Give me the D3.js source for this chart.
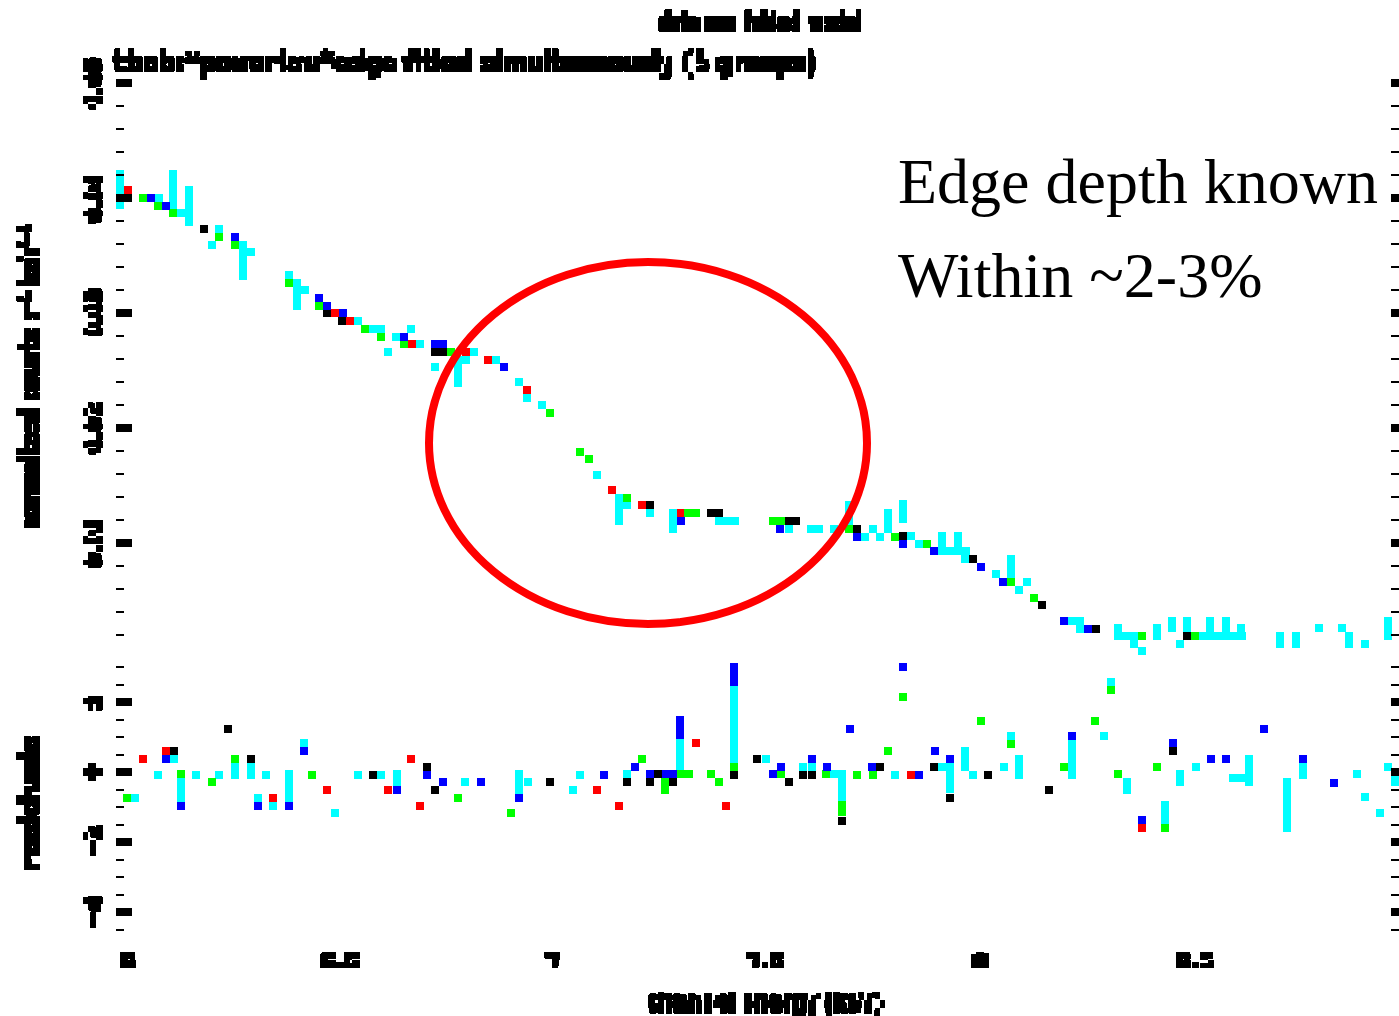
<!DOCTYPE html>
<html>
<head>
<meta charset="utf-8">
<script type="text/javascript" src="https://d3js.org/d3.v7.min.js"></script>
<style>
  body { margin: 0; background: #ffffff; }
  svg { display: block; }
</style>
</head>
<body>
<div id="plot"></div>
<script type="text/javascript">
// five data groups, plotted black, red, green, blue, cyan (group 1..5)
// top panel: [energy keV, normalized counts s^-1 keV^-1, error]
var topBlack = [[6.002,0.0400],[6.182,0.0373],[6.469,0.0300],[6.504,0.0293],[6.722,0.0266],[6.741,0.0266],[7.226,0.0133],[7.369,0.0126],[7.388,0.0126],[7.552,0.0119],[7.568,0.0119],[7.712,0.0112],[7.819,0.0106],[7.983,0.0086],[8.144,0.0046],[8.271,0.0025],[8.485,0.0019]];
var topRed = [[6.002,0.0407],[6.488,0.0300],[6.523,0.0293],[6.668,0.0273],[6.795,0.0266],[6.846,0.0259],[6.938,0.0233],[7.136,0.0146],[7.207,0.0133],[7.299,0.0126]];
var topGreen = [[6.038,0.0400],[6.073,0.0393],[6.108,0.0387],[6.217,0.0366],[6.253,0.0359],[6.380,0.0326],[6.450,0.0306],[6.558,0.0286],[6.595,0.0279],[6.649,0.0273],[6.760,0.0266],[6.992,0.0213],[7.063,0.0179],[7.082,0.0173],[7.172,0.0139],[7.315,0.0126],[7.334,0.0126],[7.514,0.0119],[7.533,0.0119],[7.692,0.0112],[7.800,0.0105],[7.875,0.0099],[8.072,0.0066],[8.126,0.0052],[8.379,0.0019],[8.504,0.0019]];
var topBlue = [[6.056,0.0400],[6.091,0.0393],[6.253,0.0366],[6.450,0.0313],[6.469,0.0306],[6.506,0.0300],[6.649,0.0279],[6.722,0.0273],[6.741,0.0273],[6.884,0.0253],[7.299,0.0119],[7.531,0.0112],[7.712,0.0105],[7.819,0.0099],[7.892,0.0093],[8.001,0.0079],[8.053,0.0066],[8.196,0.0032],[8.253,0.0025]];
var topCyan = [[5.984,0.0407,0.00135],[6.075,0.0400],[6.109,0.0407,0.00135],[6.127,0.0387],[6.145,0.0393,0.00139],[6.217,0.0373],[6.199,0.0359],[6.272,0.0346,0.00135],[6.291,0.0353],[6.380,0.0333],[6.398,0.0316,0.0010],[6.417,0.0320],[6.541,0.0293],[6.577,0.0286],[6.595,0.0286],[6.667,0.0286],[6.631,0.0279],[6.687,0.0273],[6.613,0.0266],[6.813,0.0266],[6.776,0.0249,0.0010],[6.795,0.0259],[6.722,0.0253],[6.865,0.0259],[6.919,0.0240],[6.938,0.0226],[6.974,0.0220],[7.101,0.0159],[7.154,0.0129,0.0010],[7.172,0.0133],[7.226,0.0126],[7.280,0.0119,0.0007],[7.388,0.0119],[7.406,0.0119],[7.425,0.0119],[7.551,0.0112],[7.603,0.0112],[7.622,0.0112],[7.657,0.0112],[7.692,0.0126,0.0007],[7.730,0.0105],[7.749,0.0112],[7.766,0.0105],[7.784,0.0119,0.0007],[7.819,0.0127,0.00065],[7.838,0.0106],[7.857,0.0099],[7.910,0.0100,0.00065],[7.929,0.0093],[7.947,0.0100,0.00065],[7.964,0.0086],[7.966,0.0093],[8.036,0.0073],[8.072,0.0076,0.0010],[8.109,0.0066],[8.090,0.0059],[8.215,0.0032],[8.234,0.0032],[8.234,0.0025],[8.324,0.0023,0.00035],[8.342,0.0019],[8.361,0.0019],[8.361,0.0012],[8.378,0.0006],[8.414,0.0023,0.00035],[8.450,0.0029,0.0003],[8.468,0.0012],[8.485,0.0029,0.0003],[8.522,0.0019],[8.541,0.0019],[8.560,0.0019],[8.579,0.0019],[8.597,0.0019],[8.614,0.0019],[8.539,0.0026,0.00065],[8.576,0.0026,0.00065],[8.612,0.0023,0.00035],[8.703,0.0016,0.00035],[8.739,0.0016,0.00035],[8.793,0.0026],[8.847,0.0026],[8.864,0.0016,0.00035],[8.901,0.0012],[8.955,0.0026,0.00065]];

// bottom panel: [energy keV, (data-model)/error, error]
var resBlack = [[6.236,1.24],[6.110,0.60],[6.290,0.37],[6.704,0.14],[6.577,-0.09],[6.722,-0.51],[6.992,-0.29],[7.172,-0.29],[7.226,-0.29],[7.245,-0.06],[7.280,-0.29],[7.424,-0.09],[7.477,0.37],[7.551,-0.29],[7.585,-0.09],[7.605,-0.09],[7.676,-1.39],[7.766,0.14],[7.892,0.14],[7.928,-0.73],[8.018,-0.09],[8.162,-0.51],[8.451,0.59]];
var resRed = [[6.091,0.60],[6.038,0.37],[6.667,0.37],[6.612,-0.51],[6.470,-0.51],[6.343,-0.73],[6.686,-0.96],[7.101,-0.51],[7.154,-0.96],[7.334,0.83],[7.405,-0.96],[7.838,-0.09],[8.378,-1.60]];
var resGreen = [[6.253,0.37],[6.128,-0.06],[6.199,-0.29],[6.434,-0.09],[6.000,-0.73],[6.776,-0.73],[6.901,-1.17],[7.208,0.37],[7.262,-0.40,0.11],[7.299,-0.06],[7.317,-0.06],[7.424,0.14],[7.370,-0.06],[7.388,-0.29],[7.532,-0.06],[7.639,-0.06],[7.676,-1.04,0.10],[7.712,-0.09],[7.748,-0.09],[7.784,0.60],[7.820,2.13],[8.001,1.47],[8.072,0.81],[8.196,0.14],[8.270,1.47],[8.307,2.34],[8.324,-0.07],[8.414,0.14],[8.432,-1.60]];
var resBlue = [[6.091,0.37],[6.416,0.59],[6.704,-0.09],[6.128,-0.96],[6.380,-0.96],[6.308,-0.96],[6.632,-0.51],[6.740,-0.29],[6.830,-0.29],[6.920,-0.73],[7.118,-0.09],[7.190,0.14],[7.226,-0.06],[7.263,-0.06],[7.280,-0.06],[7.297,1.27,0.21],[7.424,2.79,0.21],[7.514,-0.06],[7.532,0.14],[7.605,0.37],[7.640,0.14],[7.694,1.24],[7.746,0.14],[7.820,3.00],[7.857,-0.09],[7.893,0.59],[7.928,0.37],[8.216,1.03],[8.378,-1.37],[8.451,0.83],[8.540,0.36],[8.576,0.36],[8.666,1.24],[8.757,0.37],[8.828,-0.30]];
var resCyan = [[6.110,0.37],[6.074,-0.09],[6.128,-0.51,0.23],[6.163,-0.09],[6.217,-0.09],[6.253,0.03,0.11],[6.290,0.03,0.11],[6.326,-0.09],[6.380,-0.40,0.34],[6.416,0.83],[6.541,-0.09],[6.595,-0.09],[6.632,-0.17,0.11],[6.793,-0.29],[6.920,-0.29,0.23],[6.939,-0.29],[7.063,-0.09],[7.045,-0.51],[6.020,-0.73],[6.308,-0.73],[6.343,-0.96],[6.488,-1.17],[7.172,-0.06],[7.297,0.50,0.33],[7.424,1.36,0.99],[7.497,0.37],[7.585,0.14],[7.605,0.14],[7.657,-0.06],[7.676,-0.39,0.33],[7.801,-0.09],[7.910,0.14],[7.929,0.14],[7.928,-0.17,0.31],[7.964,0.37,0.23],[7.982,-0.09],[8.055,0.14],[8.072,1.03],[8.090,0.14,0.23],[8.216,0.37,0.46],[8.289,1.03],[8.307,2.57],[8.343,-0.40,0.11],[8.432,-1.16,0.21],[8.468,-0.17,0.11],[8.505,0.14],[8.593,-0.17],[8.611,-0.17],[8.631,0.04,0.33],[8.720,-0.94,0.66],[8.757,0.03,0.11],[8.882,-0.07],[8.901,-0.71],[8.936,-1.17],[8.955,0.14],[8.972,-0.17,0.11]];

var xTicks = [6, 6.5, 7, 7.5, 8, 8.5];
var topTicks = [0.01, 0.02, 0.03, 0.04, 0.05];
var resTicks = [-4, -2, 0, 2];

var titleText = "data and folded model";
var fileText = "tbabs*powerlaw*edge  fitted  simultaneously  (5 groups)";
var xLabel = "channel energy (keV)";
var yLabelTop = "normalized counts s\u207B\u00B9 keV\u207B\u00B9";
var yLabelRes = "residuals";
var noteLines = ["Edge depth known", "Within ~2-3%"];

var W = 1399, H = 1016;

var x = d3.scaleLinear().domain([5.984, 8.972]).range([120, 1395]);
var yTop = d3.scaleLinear().domain([0, 0.05]).range([658, 83]);
var yRes = d3.scaleLinear().domain([-4.6, 3.25]).range([933, 658.25]);

var svg = d3.select("#plot").append("svg")
    .attr("width", W)
    .attr("height", H);

// blocky look for the low-res labels: sample a 4x4 patch per 8px cell, grow it back to 8x8
var defs = svg.append("defs");
var pix = defs.append("filter").attr("id", "pix")
    .attr("filterUnits", "userSpaceOnUse")
    .attr("x", 0).attr("y", 0).attr("width", W).attr("height", H);
pix.append("feFlood").attr("x", 2).attr("y", 2).attr("width", 4).attr("height", 4).attr("flood-color", "#000");
pix.append("feComposite").attr("width", 8).attr("height", 8);
pix.append("feTile").attr("result", "grid");
pix.append("feComposite").attr("in", "SourceGraphic").attr("in2", "grid").attr("operator", "in");
pix.append("feComponentTransfer").append("feFuncA").attr("type", "discrete").attr("tableValues", "0 1 1 1");
pix.append("feMorphology").attr("operator", "dilate").attr("radius", 2);

function drawGroup(data, y, color) {
    var g = svg.append("g").attr("fill", color);
    g.selectAll(null)
        .data(data.filter(function (d) { return d[2]; }))
        .enter().append("rect")
        .attr("x", function (d) { return Math.round(x(d[0]) - 4); })
        .attr("y", function (d) { return Math.round(y(d[1] + d[2]) - 4); })
        .attr("width", 8)
        .attr("height", function (d) { return Math.round(y(d[1] - d[2]) - y(d[1] + d[2])) + 8; });
    g.selectAll(null)
        .data(data)
        .enter().append("rect")
        .attr("x", function (d) { return Math.round(x(d[0]) - 4); })
        .attr("y", function (d) { return Math.round(y(d[1]) - 4); })
        .attr("width", 8)
        .attr("height", 8);
}

// group 5 goes underneath, the others on top
drawGroup(topCyan, yTop, "#00ffff");
drawGroup(resCyan, yRes, "#00ffff");
drawGroup(topBlack, yTop, "#000000");
drawGroup(resBlack, yRes, "#000000");
drawGroup(topRed, yTop, "#ff0000");
drawGroup(resRed, yRes, "#ff0000");
drawGroup(topGreen, yTop, "#00ff00");
drawGroup(resGreen, yRes, "#00ff00");
drawGroup(topBlue, yTop, "#0000ff");
drawGroup(resBlue, yRes, "#0000ff");

// tick marks on both vertical sides
function sideTicks(y, major, minor) {
    var g = svg.append("g").attr("fill", "#000");
    minor.forEach(function (v) {
        g.append("rect").attr("x", 116).attr("y", Math.round(y(v) - 1)).attr("width", 8).attr("height", 2);
        g.append("rect").attr("x", 1391).attr("y", Math.round(y(v) - 1)).attr("width", 8).attr("height", 2);
    });
    major.forEach(function (v) {
        g.append("rect").attr("x", 116).attr("y", Math.round(y(v) - 4)).attr("width", 16).attr("height", 8);
        g.append("rect").attr("x", 1391).attr("y", Math.round(y(v) - 4)).attr("width", 8).attr("height", 8);
    });
}
sideTicks(yTop, topTicks, d3.range(0.002, 0.0501, 0.002));
sideTicks(yRes, resTicks, d3.range(-4.5, 3.01, 0.5));

// labels
var lab = svg.append("g")
    .attr("filter", "url(#pix)")
    .style("font-family", "'DejaVu Sans', sans-serif")
    .style("font-weight", "bold")
    .attr("fill", "#000")
    .attr("stroke", "#000")
    .attr("stroke-width", 1.5);

lab.append("text").attr("x", 760).attr("y", 32)
    .attr("text-anchor", "middle").style("font-size", "26px")
    .attr("textLength", 200).attr("lengthAdjust", "spacingAndGlyphs")
    .text(titleText);
lab.append("text").attr("x", 115).attr("y", 73)
    .style("font-size", "30px")
    .attr("textLength", 700).attr("lengthAdjust", "spacingAndGlyphs")
    .text(fileText);

lab.selectAll(".xt").data(xTicks).enter().append("text")
    .attr("x", function (d) { return x(d); })
    .attr("y", 969)
    .attr("text-anchor", "middle").style("font-size", "22px")
    .text(function (d) { return d; });

lab.selectAll(".yt").data(topTicks).enter().append("text")
    .attr("transform", function (d) { return "translate(100," + yTop(d) + ") rotate(-90)"; })
    .attr("text-anchor", "middle").style("font-size", "20px")
    .text(function (d) { return d3.format(".2f")(d); });
lab.selectAll(".rt").data(resTicks).enter().append("text")
    .attr("transform", function (d) { return "translate(100," + yRes(d) + ") rotate(-90)"; })
    .attr("text-anchor", "middle").style("font-size", "20px")
    .text(function (d) { return d3.format("d")(d).replace("-", "\u2212"); });

lab.append("text").attr("x", 766).attr("y", 1011)
    .attr("text-anchor", "middle").style("font-size", "26px")
    .attr("textLength", 236).attr("lengthAdjust", "spacingAndGlyphs")
    .text(xLabel);
lab.append("text").attr("transform", "translate(39,378) rotate(-90)")
    .attr("text-anchor", "middle").style("font-size", "26px")
    .attr("textLength", 305).attr("lengthAdjust", "spacingAndGlyphs")
    .text(yLabelTop);
lab.append("text").attr("transform", "translate(39,802) rotate(-90)")
    .attr("text-anchor", "middle").style("font-size", "26px")
    .attr("textLength", 135).attr("lengthAdjust", "spacingAndGlyphs")
    .text(yLabelRes);

// annotation drawn on top
svg.append("ellipse")
    .attr("cx", 648).attr("cy", 443)
    .attr("rx", 219).attr("ry", 181)
    .attr("fill", "none")
    .attr("stroke", "#ff0000")
    .attr("stroke-width", 8);

svg.selectAll(".note").data(noteLines).enter().append("text")
    .attr("x", 898)
    .attr("y", function (d, i) { return 203 + i * 94; })
    .style("font-family", "'Liberation Serif', 'Times New Roman', serif")
    .style("font-size", "64px")
    .attr("fill", "#000")
    .text(function (d) { return d; });
</script>
</body>
</html>
